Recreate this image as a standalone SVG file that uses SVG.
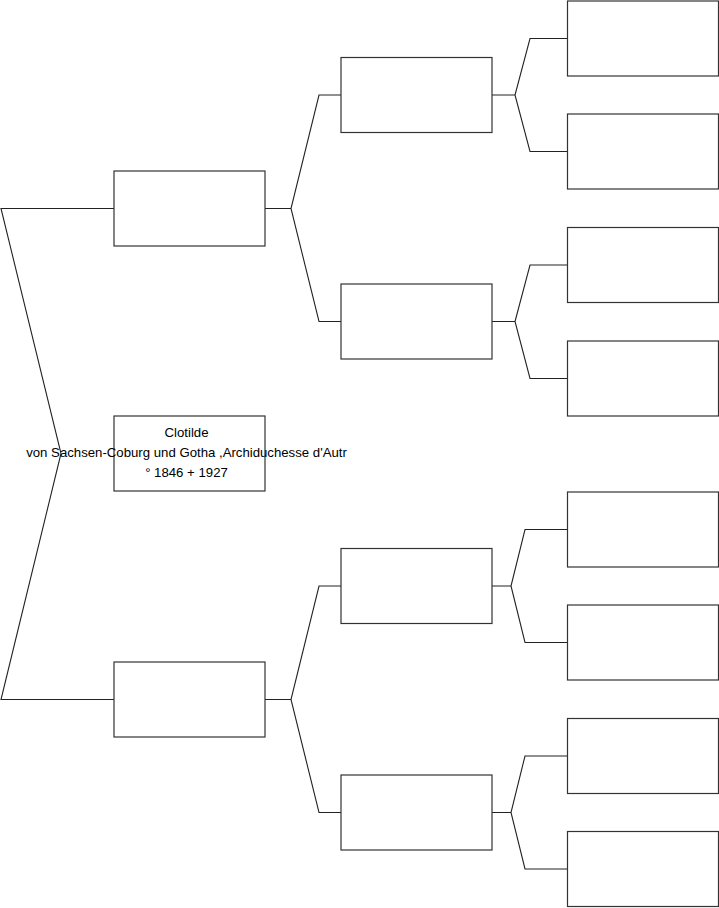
<svg xmlns="http://www.w3.org/2000/svg" width="719" height="908" viewBox="0 0 719 908">
<style>
.box{fill:#fff;stroke:#333;stroke-width:1.2}
.ln{fill:none;stroke:#222;stroke-width:1.1}
.t{font-family:"Liberation Sans",Arial,sans-serif;font-size:13.2px;fill:#000;text-anchor:middle}
</style>
<rect width="719" height="908" fill="#fff"/>
<g id="connectors">
<path class="ln" d="M114,208.5 H1 L61,453.5 L1,699.5 H114"/>
<path class="ln" d="M265,208.5 H291 M341,95 H319 L291,208.5 L319,321.5 H341"/>
<path class="ln" d="M265,699.5 H291 M341,586 H319 L291,699.5 L319,812.5 H341"/>
<path class="ln" d="M492,95 H515 M567,38.5 H530 L515,95 L530,151.5 H567"/>
<path class="ln" d="M492,321.5 H515 M567,265 H530 L515,321.5 L530,378.5 H567"/>
<path class="ln" d="M492,586 H511 M567,529.5 H525 L511,586 L525,642.5 H567"/>
<path class="ln" d="M492,812.5 H511 M567,756 H525 L511,812.5 L525,869 H567"/>
</g>
<g id="n1"><rect class="box" x="114" y="171" width="151" height="75"/></g>
<g id="n0"><rect class="box" x="114" y="416" width="151" height="75"/></g>
<g id="n2"><rect class="box" x="114" y="662" width="151" height="75"/></g>
<g id="n3"><rect class="box" x="341" y="57.5" width="151" height="75"/></g>
<g id="n4"><rect class="box" x="341" y="284" width="151" height="75"/></g>
<g id="n5"><rect class="box" x="341" y="548.5" width="151" height="75"/></g>
<g id="n6"><rect class="box" x="341" y="775" width="151" height="75"/></g>
<g id="n7"><rect class="box" x="567.5" y="1" width="151" height="75"/></g>
<g id="n8"><rect class="box" x="567.5" y="114" width="151" height="75"/></g>
<g id="n9"><rect class="box" x="567.5" y="227.5" width="151" height="75"/></g>
<g id="n10"><rect class="box" x="567.5" y="341" width="151" height="75"/></g>
<g id="n11"><rect class="box" x="567.5" y="492" width="151" height="75"/></g>
<g id="n12"><rect class="box" x="567.5" y="605" width="151" height="75"/></g>
<g id="n13"><rect class="box" x="567.5" y="718.5" width="151" height="75"/></g>
<g id="n14"><rect class="box" x="567.5" y="831.5" width="151" height="75"/></g>
<g id="n0-text">
<text class="t" x="186.5" y="437">Clotilde</text>
<text class="t" x="186.5" y="457">von Sachsen-Coburg und Gotha ,Archiduchesse d'Autr</text>
<text class="t" x="186.5" y="477">° 1846 + 1927</text>
</g>
</svg>
